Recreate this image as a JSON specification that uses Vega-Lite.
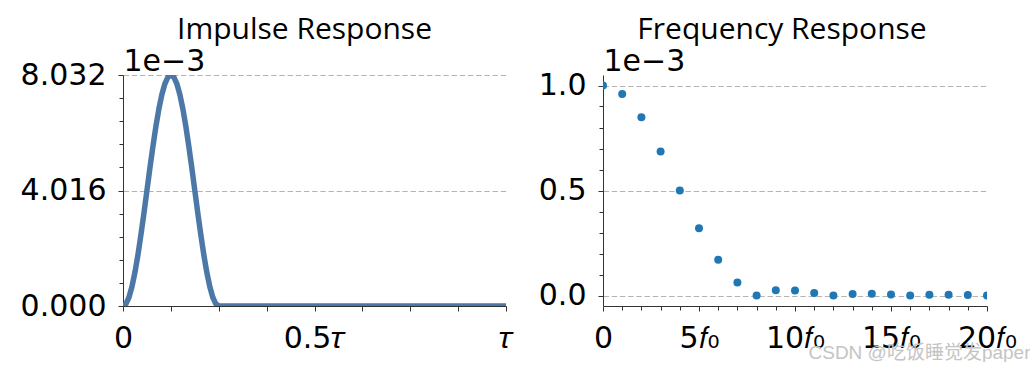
{
  "$schema": "https://vega.github.io/schema/vega-lite/v6.json",
  "background": "white",
  "padding": {"left": 20, "top": 14, "right": 0, "bottom": 0},
  "config": {
    "view": {"stroke": null},
    "axis": {
      "domainColor": "#333333", "tickColor": "#333333", "labelFont": "DejaVu Sans", "labelFontSize": 30, "labelColor": "#000000",
      "tickSize": 5, "labelFlush": false, "labelOverlap": false, "labelBound": false, "grid": false,
      "titleFont": "DejaVu Sans", "titleFontSize": 30, "titleFontWeight": "normal", "titleColor": "#000000"
    },
    "title": {"font": "Open Sans", "fontSize": 30, "fontWeight": "normal", "color": "#000000"}
  },
  "datasets": {
    "impulse": [
      {"t": 0, "h": 0}, {"t": 0.0078125, "h": 0.0772}, {"t": 0.015625, "h": 0.3057}, {"t": 0.0234375, "h": 0.6768},
      {"t": 0.03125, "h": 1.1763}, {"t": 0.0390625, "h": 1.7848}, {"t": 0.046875, "h": 2.4791}, {"t": 0.0546875, "h": 3.2325},
      {"t": 0.0625, "h": 4.016}, {"t": 0.0703125, "h": 4.7995}, {"t": 0.078125, "h": 5.5529}, {"t": 0.0859375, "h": 6.2472},
      {"t": 0.09375, "h": 6.8557}, {"t": 0.1015625, "h": 7.3552}, {"t": 0.109375, "h": 7.7263}, {"t": 0.1171875, "h": 7.9548},
      {"t": 0.125, "h": 8.032}, {"t": 0.1328125, "h": 7.9548}, {"t": 0.140625, "h": 7.7263}, {"t": 0.1484375, "h": 7.3552},
      {"t": 0.15625, "h": 6.8557}, {"t": 0.1640625, "h": 6.2472}, {"t": 0.171875, "h": 5.5529}, {"t": 0.1796875, "h": 4.7995},
      {"t": 0.1875, "h": 4.016}, {"t": 0.1953125, "h": 3.2325}, {"t": 0.203125, "h": 2.4791}, {"t": 0.2109375, "h": 1.7848},
      {"t": 0.21875, "h": 1.1763}, {"t": 0.2265625, "h": 0.6768}, {"t": 0.234375, "h": 0.3057}, {"t": 0.2421875, "h": 0.0772},
      {"t": 0.25, "h": 0}, {"t": 0.5, "h": 0}, {"t": 0.75, "h": 0}, {"t": 1, "h": 0}
    ],
    "freq": [
      {"n": 0, "H": 1.0}, {"n": 1, "H": 0.960}, {"n": 2, "H": 0.849}, {"n": 3, "H": 0.686}, {"n": 4, "H": 0.5},
      {"n": 5, "H": 0.320}, {"n": 6, "H": 0.170}, {"n": 7, "H": 0.062}, {"n": 8, "H": 0.0}, {"n": 9, "H": 0.0246},
      {"n": 10, "H": 0.0243}, {"n": 11, "H": 0.0125}, {"n": 12, "H": 0.0}, {"n": 13, "H": 0.0072}, {"n": 14, "H": 0.0081},
      {"n": 15, "H": 0.0046}, {"n": 16, "H": 0.0}, {"n": 17, "H": 0.0031}, {"n": 18, "H": 0.0037}, {"n": 19, "H": 0.0022},
      {"n": 20, "H": 0.0}
    ]
  },
  "spacing": 97,
  "bounds": "flush",
  "hconcat": [
    {
      "width": 383,
      "height": 231,
      "title": {"text": "Impulse Response", "frame": "group", "anchor": "middle", "baseline": "alphabetic", "offset": -22.5, "dx": -10},
      "data": {"name": "impulse"},
      "mark": {"type": "line", "strokeWidth": 5.5, "color": "#4C78A8", "clip": true},
      "encoding": {
        "x": {
          "field": "t", "type": "quantitative",
          "scale": {"domain": [0, 1], "nice": false, "zero": false},
          "axis": {
            "values": [0, 0.125, 0.25, 0.375, 0.5, 0.625, 0.75, 0.875, 1],
            "labelExpr": "datum.value == 0 ? '0' : datum.value == 0.5 ? '0.5𝜏' : datum.value == 1 ? '𝜏' : ''",
            "title": null, "labelPadding": 12
          }
        },
        "y": {
          "field": "h", "type": "quantitative",
          "scale": {"domain": [0, 8.032], "nice": false, "zero": false},
          "axis": {
            "values": [0, 0.8032, 1.6064, 2.4096, 3.2128, 4.016, 4.8192, 5.6224, 6.4256, 7.2288, 8.032],
            "labelExpr": "(datum.value < 0.001 || abs(datum.value - 4.016) < 0.001 || datum.value > 8.03) ? format(datum.value, '.3f') : ''",
            "grid": true, "gridColor": "#b4b4b4", "gridDash": [5.5, 2.7],
            "gridOpacity": {"condition": {"test": "datum.value < 0.001 || abs(datum.value - 4.016) < 0.001 || datum.value > 8.03", "value": 1}, "value": 0},
            "tickSize": {"condition": {"test": "datum.value < 0.001 || abs(datum.value - 4.016) < 0.001 || datum.value > 8.03", "value": 5}, "value": 4},
            "title": "1e−3", "titleAngle": 0, "titleAlign": "left", "titleBaseline": "alphabetic", "titleX": 0, "titleY": -5,
            "labelPadding": 12
          }
        }
      }
    },
    {
      "width": 384,
      "height": 231,
      "title": {"text": "Frequency Response", "frame": "group", "anchor": "middle", "baseline": "alphabetic", "offset": -22.5, "dx": -13},
      "data": {"name": "freq"},
      "mark": {"type": "circle", "size": 64, "color": "#1f77b4", "opacity": 1, "clip": true},
      "encoding": {
        "x": {
          "field": "n", "type": "quantitative",
          "scale": {"domain": [0, 20], "nice": false, "zero": false},
          "axis": {
            "values": [0, 1, 2, 3, 4, 5, 6, 7, 8, 9, 10, 11, 12, 13, 14, 15, 16, 17, 18, 19, 20],
            "labelExpr": "datum.value == 0 ? '0' : datum.value % 5 == 0 ? datum.value + '𝑓₀' : ''",
            "tickSize": {"condition": {"test": "datum.value % 5 == 0", "value": 5}, "value": 4},
            "labelPadding": 12,
            "title": "CSDN @吃饭睡觉发paper", "titleFont": "Liberation Sans, Noto Sans CJK SC", "titleFontSize": 19,
            "titleColor": "#c4c4c4", "titleAlign": "right", "titleBaseline": "alphabetic", "titleAngle": 0,
            "titleX": 427, "titleY": 52
          }
        },
        "y": {
          "field": "H", "type": "quantitative",
          "scale": {"domain": [-0.05, 1.05], "nice": false, "zero": false},
          "axis": {
            "values": [0, 0.1, 0.2, 0.3, 0.4, 0.5, 0.6, 0.7, 0.8, 0.9, 1.0],
            "labelExpr": "abs(datum.value * 2 - round(datum.value * 2)) < 0.001 ? format(datum.value, '.1f') : ''",
            "grid": true, "gridColor": "#b4b4b4", "gridDash": [5.5, 2.7],
            "gridOpacity": {"condition": {"test": "abs(datum.value * 2 - round(datum.value * 2)) < 0.001", "value": 1}, "value": 0},
            "tickSize": {"condition": {"test": "abs(datum.value * 2 - round(datum.value * 2)) < 0.001", "value": 5}, "value": 4},
            "title": "1e−3", "titleAngle": 0, "titleAlign": "left", "titleBaseline": "alphabetic", "titleX": 0, "titleY": -5,
            "labelPadding": 12
          }
        }
      }
    }
  ]
}
